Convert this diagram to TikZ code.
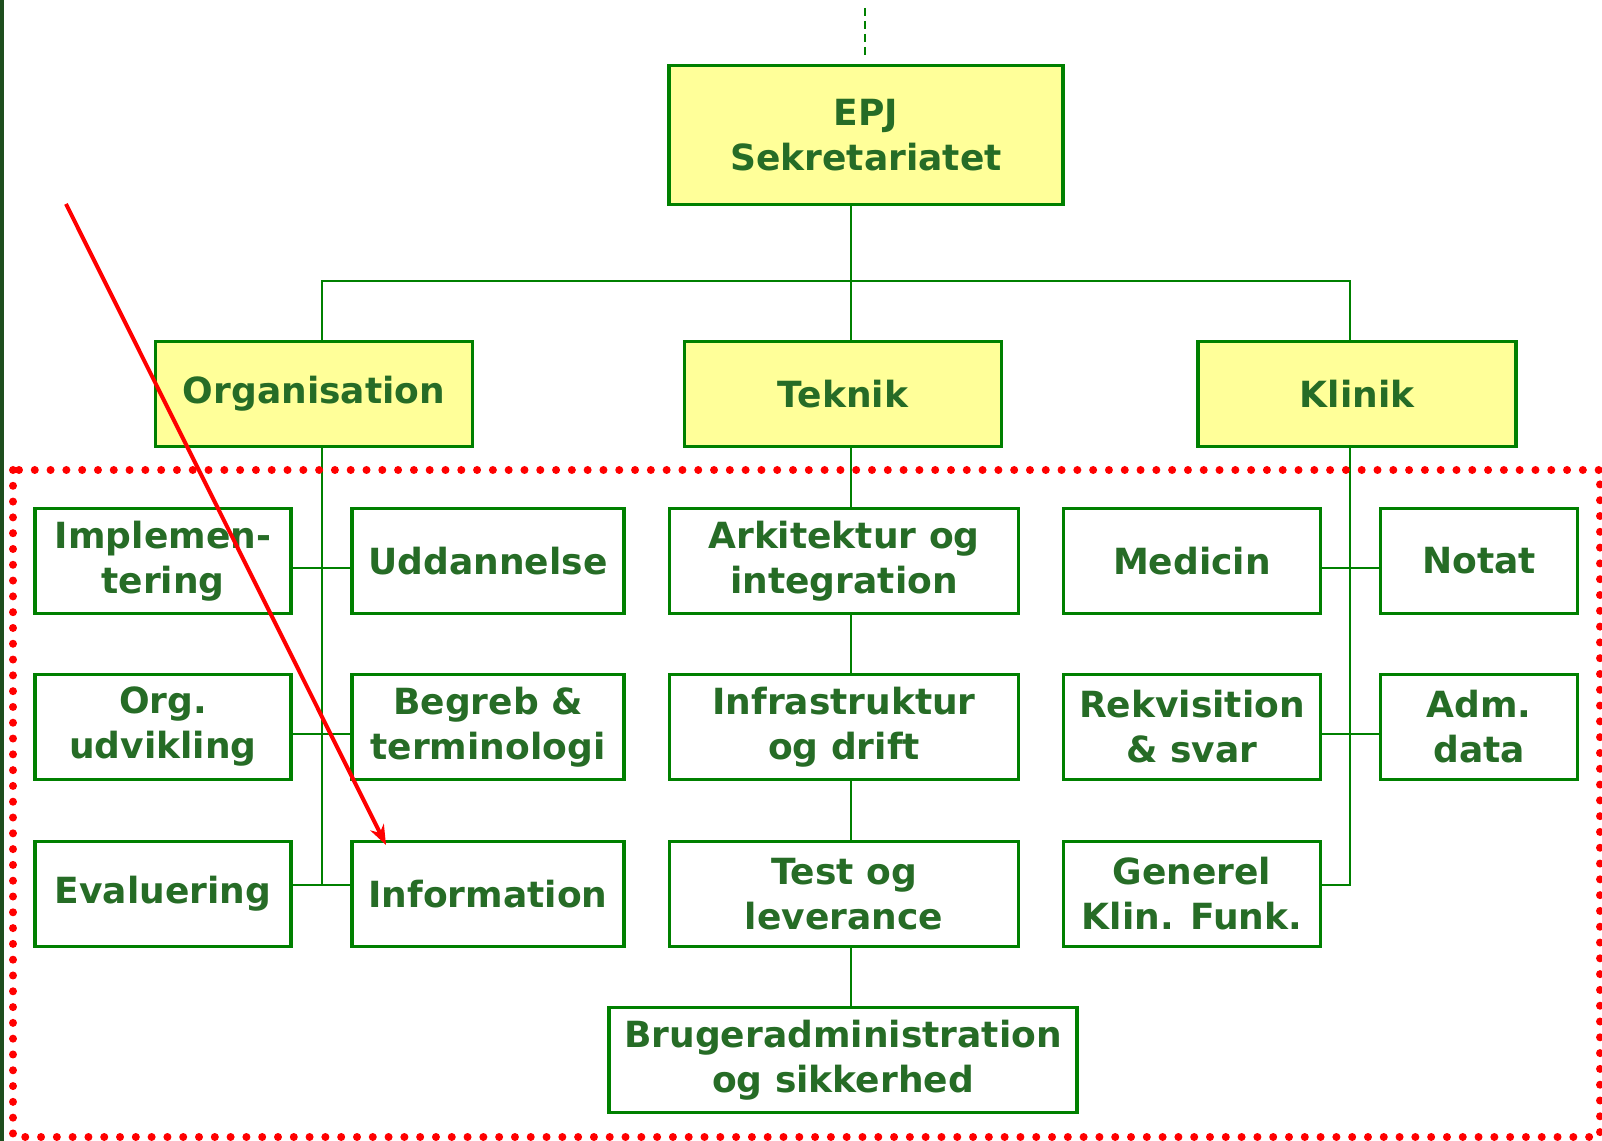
\documentclass[tikz,border=0pt]{standalone}
\usepackage{fontspec}
\setmainfont{DejaVu Sans}
\usepackage{tikz}
\usetikzlibrary{positioning,arrows.meta}
\definecolor{boxgreen}{RGB}{0,128,0}
\definecolor{txtgreen}{RGB}{38,108,38}
\definecolor{bargreen}{RGB}{30,78,30}
\definecolor{epjyellow}{RGB}{255,255,153}

\begin{document}
\begin{tikzpicture}[x=0.02cm,y=-0.02cm]%[1 unit = 1 px]
      \tikzstyle{box} = [draw=boxgreen, line width=0.065cm, inner
      sep=0pt, align=center, text=txtgreen,
      font=\bfseries\fontsize{20.5}{25.6}\selectfont]
      \tikzstyle{head} = [box, fill=epjyellow, minimum height=2.1cm]
      \tikzstyle{sub} = [box, fill=white, minimum height=2.1cm]
      \tikzstyle{wire} = [draw=boxgreen, line width=0.055cm]
      \useasboundingbox (0,0) rectangle (1602,1141);
      \fill[bargreen] (0,0) rectangle (4,1141);
      % TOP
      \node[head, minimum width=7.88cm, minimum height=2.78cm] (epj) at (866,135) {EPJ\\Sekretariatet};
      \node[head, minimum width=6.34cm] (org) at (314,394) {Organisation};
      \node[head, minimum width=6.34cm] (tek) at (843,394) {Teknik};
      \node[head, minimum width=6.36cm] (kli) at (1357,394) {Klinik};
      % ORGANISATION
      \node[sub, minimum width=5.12cm] (impl) at (163,561) {Implemen-\\tering};
      \node[sub, minimum width=5.44cm] (udd) at (488,561) {Uddannelse};
      \node[sub, minimum width=5.12cm] (orgu) at (163,727) {Org.\\udvikling};
      \node[sub, minimum width=5.44cm] (begr) at (488,727) {Begreb \&\\terminologi};
      \node[sub, minimum width=5.12cm] (eval) at (163,894) {Evaluering};
      \node[sub, minimum width=5.44cm] (info) at (488,894) {Information};
      % TEKNIK
      \node[sub, minimum width=6.98cm] (ark) at (844,561) {Arkitektur og\\integration};
      \node[sub, minimum width=6.98cm] (infra) at (844,727) {Infrastruktur\\og drift};
      \node[sub, minimum width=6.98cm] (test) at (844,894) {Test og\\leverance};
      \node[sub, minimum width=9.36cm] (brug) at (843,1060) {Brugeradministration\\og sikkerhed};
      % KLINIK
      \node[sub, minimum width=5.14cm] (medi) at (1192,561) {Medicin};
      \node[sub, minimum width=3.94cm] (notat) at (1479,561) {Notat};
      \node[sub, minimum width=5.14cm] (rekv) at (1192,727) {Rekvisition\\\& svar};
      \node[sub, minimum width=3.94cm] (adm) at (1479,727) {Adm.\\data};
      \node[sub, minimum width=5.14cm] (gen) at (1192,894) {Generel\\Klin. Funk.};
      % wires
      \coordinate (top) at (865,8);
      \draw[wire, dash pattern=on 0.16cm off 0.1cm, shorten >=0.18cm] (top) -- (epj.north -| top);
      \draw[wire] (epj.south -| 851,0) -- (tek.north -| 851,0);
      \draw[wire] (org.north -| 322,0) -- (322,281) -- (1350,281) -- (kli.north -| 1350,0);
      \draw[wire] (org.south -| 322,0) -- (322,885);
      \draw[wire] (kli.south -| 1350,0) -- (1350,885) -- (gen.east |- 0,885);
      \foreach \a/\b/\y in {impl/udd/568, orgu/begr/734, eval/info/885,
        medi/notat/568, rekv/adm/734}
        \draw[wire] (\a.east |- 0,\y) -- (\b.west |- 0,\y);
      \foreach \a/\b in {tek/ark, ark/infra, infra/test, test/brug}
        \draw[wire] (\a.south -| 851,0) -- (\b.north -| 851,0);
      % red marks
      \draw[red, line width=0.16cm, dash pattern=on 0pt off 0.316cm,
      line cap=round] (13,470) rectangle (1600,1137);
      \coordinate (pen) at (66,204); \coordinate (tip) at (386,845);
      \draw[red, line width=0.08cm, -{Stealth[length=0.4cm,width=0.3cm]}] (pen) -- (tip);
    \end{tikzpicture}
\end{document}
